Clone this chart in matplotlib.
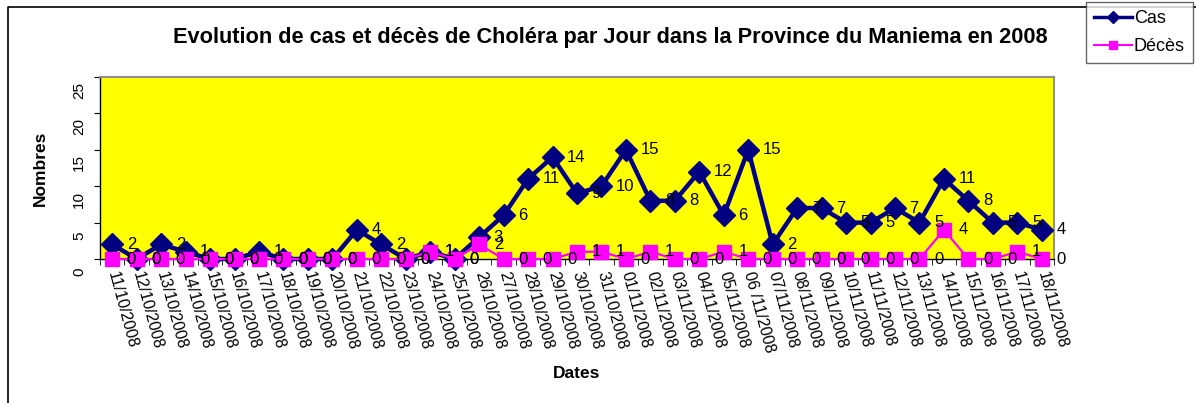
#!/usr/bin/env python3
"""
Cholera cases and deaths per day, Maniema province, 2008 (Excel-style line chart).
"""

import matplotlib
matplotlib.use("Agg")
import matplotlib.pyplot as plt
from matplotlib.lines import Line2D

# ── Data ──────────────────────────────────────────────────────────────────────

dates = (
    [f"{d}/10/2008" for d in range(11, 32)]
    + [f"{d:02d}/11/2008" for d in range(1, 19)]
)
dates[26] = "06 /11/2008"   # as typed in the source sheet

cas = [2, 0, 2, 1, 0, 0, 1, 0, 0, 0, 4, 2, 0, 1, 0, 3, 6, 11, 14, 9,
       10, 15, 8, 8, 12, 6, 15, 2, 7, 7, 5, 5, 7, 5, 11, 8, 5, 5, 4]
deces = [0, 0, 0, 0, 0, 0, 0, 0, 0, 0, 0, 0, 0, 1, 0, 2, 0, 0, 0, 1,
         1, 0, 1, 0, 0, 1, 0, 0, 0, 0, 0, 0, 0, 0, 4, 0, 0, 1, 0]

y_ticks = [0, 5, 10, 15, 20, 25]

# ── Plot ──────────────────────────────────────────────────────────────────────

W, H = 1196, 403
plt.rcParams["font.family"] = ["Liberation Sans", "DejaVu Sans"]

fig = plt.figure(figsize=(W / 100, H / 100), dpi=100)
ax = fig.add_axes([100 / W, 1 - 259 / H, 954 / W, (259 - 77) / H])
ax.set_facecolor("#ffff00")

x = list(range(len(dates)))
ax.plot(x, cas, color="#000080", lw=3.2, marker="D", ms=11,
        mfc="#000080", mec="#000080", label="Cas", clip_on=False, zorder=3)
ax.plot(x, deces, color="#ff00ff", lw=1.6, marker="s", ms=10.5,
        mfc="#ff00ff", mec="#ff00ff", label="Décès", clip_on=False, zorder=4)

for series in (cas, deces):
    for xi, v in zip(x, series):
        ax.annotate(str(v), (xi, v), xytext=(10.5, 0), textcoords="offset points",
                    ha="left", va="center", fontsize=12, zorder=5,
                    annotation_clip=False)

ax.set_xlim(-0.5, len(dates) - 0.5)
ax.set_ylim(0, 25)

# y tick labels sit a little below their ticks, rotated (Excel style)
ax.set_yticks(y_ticks)
ax.set_yticklabels([])
for t in y_ticks:
    ax.annotate(str(t), (0, t), xycoords=("axes fraction", "data"),
                xytext=(-15, -9.5), textcoords="offset points",
                rotation=90, ha="center", va="center", fontsize=11,
                annotation_clip=False)

ax.set_xticks(x)
ax.set_xticklabels(dates, rotation=-75, ha="left", va="center",
                   rotation_mode="anchor", fontsize=11.5)
ax.tick_params(axis="x", length=0, pad=9)
ax.set_xticks([i + 0.5 for i in range(-1, len(dates))], minor=True)
ax.tick_params(axis="x", which="minor", length=4, direction="out")
ax.tick_params(axis="y", length=4, direction="out")

for side in ("left", "bottom"):
    ax.spines[side].set_color("black")
    ax.spines[side].set_linewidth(1.0)
for side in ("top", "right"):
    ax.spines[side].set_color("#909090")
    ax.spines[side].set_linewidth(1.5)

ax.set_ylabel("Nombres", fontsize=12.5, fontweight="bold")
ax.yaxis.set_label_coords(-(100 - 40) / 954, 0.5, transform=ax.transAxes)
ax.set_xlabel("Dates", fontsize=12.5, fontweight="bold")
ax.xaxis.set_label_coords(0.5, -(373 - 259) / (259 - 77), transform=ax.transAxes)
ax.xaxis.label.set_va("center")
ax.yaxis.label.set_va("center")

fig.text(610 / W, 1 - 37 / H,
         "Evolution de cas et décès de Choléra par Jour dans la Province du Maniema en 2008",
         ha="center", va="center", fontsize=15.7, fontweight="bold")

# chart-area border (left and top edges visible)
fig.add_artist(Line2D([8 / W, 8 / W, 1], [0, 1 - 7 / H, 1 - 7 / H],
                      transform=fig.transFigure, color="black", lw=1.2))

handles = [
    Line2D([], [], color="#000080", lw=2.5, marker="D", ms=6),
    Line2D([], [], color="#ff00ff", lw=1.5, marker="s", ms=6),
]
leg = fig.legend(handles, ["Cas", "Décès"], loc="upper left",
                 bbox_to_anchor=(1086 / W, 1 - 2 / H), fontsize=13,
                 frameon=True, fancybox=False, borderpad=0.45,
                 handlelength=2.1, handletextpad=0.1, labelspacing=0.6,
                 borderaxespad=0)
leg.get_frame().set_edgecolor("#404040")
leg.get_frame().set_linewidth(1.0)

fig.savefig("out.png", dpi=100)
